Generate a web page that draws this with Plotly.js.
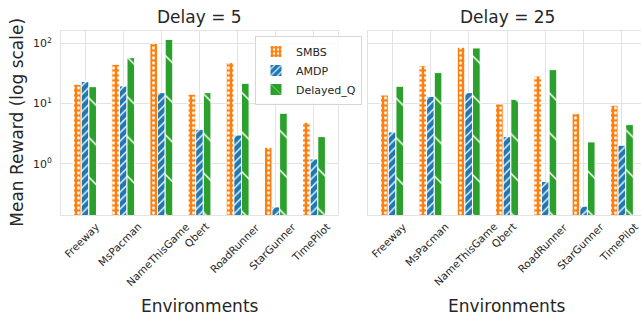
<!DOCTYPE html>
<html>
<head>
<meta charset="utf-8">
<script src="https://cdn.plot.ly/plotly-3.0.1.min.js"></script>
<style>
html, body { margin: 0; padding: 0; overflow: hidden; background: #fff; }
#chart { width: 646px; height: 323px; }
</style>
</head>
<body>
<div id="chart"></div>
<script>
const environments = ["Freeway", "MsPacman", "NameThisGame", "Qbert", "RoadRunner", "StarGunner", "TimePilot"];
const seriesNames = ["SMBS", "AMDP", "Delayed_Q"];
const panelTitles = ["Delay = 5", "Delay = 25"];
const xTitle = "Environments";
const yTitle = "Mean Reward (log scale)";

// Delay = 5
const smbs5     = [20.9, 44.9, 100, 14.3, 47.8, 1.89, 4.9];
const amdp5     = [23.2, 19.6, 15.2, 3.76, 3.02, 0.194, 1.21];
const delayedQ5 = [19.1, 57.8, 116, 15.2, 21.7, 6.92, 2.84];

// Delay = 25
const smbs25     = [13.9, 42.6, 86, 9.87, 28.8, 6.82, 9.38];
const amdp25     = [3.39, 13.2, 15.2, 2.84, 0.51, 0.20, 2.04];
const delayedQ25 = [19.4, 32.7, 83.7, 11.8, 36.6, 2.32, 4.49];

const yTickVals = [1, 10, 100];
const yTickText = ["10<sup>0</sup>", "10<sup>1</sup>", "10<sup>2</sup>"];

const colors = ["#ff7f0e", "#1f77b4", "#2ca02c"];
const patterns = [
  {shape: ".", size: 5, solidity: 0.28},
  {shape: "/", size: 6, solidity: 0.22},
  {shape: "\\", size: 28, solidity: 0.055}
];

function makeTrace(i, y, xa, ya, showlegend) {
  return {
    type: "bar",
    name: seriesNames[i],
    x: environments,
    y: y,
    xaxis: xa,
    yaxis: ya,
    showlegend: showlegend,
    legendgroup: seriesNames[i],
    marker: {
      color: colors[i],
      line: {color: "#ffffff", width: 1},
      pattern: {
        shape: patterns[i].shape,
        size: patterns[i].size,
        solidity: patterns[i].solidity,
        fgcolor: "#ffffff",
        bgcolor: colors[i],
        fillmode: "replace"
      }
    },
    hoverinfo: "skip"
  };
}

const data = [
  makeTrace(0, smbs5, "x", "y", true),
  makeTrace(1, amdp5, "x", "y", true),
  makeTrace(2, delayedQ5, "x", "y", true),
  makeTrace(0, smbs25, "x2", "y2", false),
  makeTrace(1, amdp25, "x2", "y2", false),
  makeTrace(2, delayedQ25, "x2", "y2", false)
];

const W = 646, H = 323;
const gridColor = "#e3e3e3";
const textColor = "#262626";
const fontFamily = "DejaVu Sans, sans-serif";
const plotTop = 30.5, plotBottom = 215;
const xDomains = [[61 / W, 338 / W], [368 / W, 646 / W]];

const xAxisBase = {
  type: "category",
  range: [-0.63, 6.63],
  showgrid: true,
  gridcolor: gridColor,
  gridwidth: 1,
  showline: true,
  linecolor: gridColor,
  linewidth: 1,
  mirror: true,
  ticks: "",
  showticklabels: false,
  automargin: false,
  zeroline: false,
  fixedrange: true
};
const yAxisBase = {
  type: "log",
  range: [-0.846, 2.212],
  tickvals: yTickVals,
  ticktext: yTickText,
  showgrid: true,
  gridcolor: gridColor,
  gridwidth: 1,
  showline: true,
  linecolor: gridColor,
  linewidth: 1,
  mirror: true,
  ticks: "",
  ticklabelstandoff: 6,
  tickfont: {family: fontFamily, size: 11, color: textColor},
  automargin: false,
  zeroline: false,
  fixedrange: true,
  domain: [(H - plotBottom) / H, (H - plotTop) / H]
};

const annotations = [];
// panel titles and x-axis titles
[0, 1].forEach(p => {
  const cx = (xDomains[p][0] + xDomains[p][1]) / 2;
  annotations.push({text: panelTitles[p], x: cx, y: (H - 17) / H, xref: "paper", yref: "paper",
    xanchor: "center", yanchor: "middle", showarrow: false,
    font: {family: fontFamily, size: 17, color: textColor}});
  annotations.push({text: xTitle, x: cx, y: (H - 306) / H, xref: "paper", yref: "paper",
    xanchor: "center", yanchor: "middle", showarrow: false,
    font: {family: fontFamily, size: 17, color: textColor}});
  // rotated category labels, centred under each tick (matplotlib style)
  const xref = p === 0 ? "x" : "x2";
  environments.forEach(env => {
    annotations.push({text: env, x: env, xref: xref, y: (H - 219) / H, yref: "paper",
      xanchor: "center", yanchor: "top", textangle: -45, showarrow: false, xshift: -3,
      borderpad: 0, font: {family: fontFamily, size: 10.5, color: textColor}});
  });
});
// y-axis title
annotations.push({text: yTitle, x: 17 / W, y: (H - (plotTop + plotBottom) / 2) / H,
  xref: "paper", yref: "paper", xanchor: "center", yanchor: "middle", textangle: -90,
  showarrow: false, font: {family: fontFamily, size: 17, color: textColor}});

const layout = {
  width: W,
  height: H,
  margin: {l: 0, r: 0, t: 0, b: 0, pad: 0},
  paper_bgcolor: "#ffffff",
  plot_bgcolor: "#ffffff",
  font: {family: fontFamily, color: textColor},
  barmode: "group",
  bargap: 0.4,
  bargroupgap: 0,
  showlegend: true,
  legend: {
    x: 255 / W, xanchor: "left",
    y: (H - 36) / H, yanchor: "top",
    bgcolor: "rgba(255,255,255,0.85)",
    bordercolor: "#d6d6d6",
    borderwidth: 1,
    font: {family: fontFamily, size: 11, color: textColor},
    itemwidth: 30,
    tracegroupgap: 0
  },
  xaxis: Object.assign({}, xAxisBase, {domain: xDomains[0], anchor: "y"}),
  xaxis2: Object.assign({}, xAxisBase, {domain: xDomains[1], anchor: "y2"}),
  yaxis: Object.assign({}, yAxisBase, {anchor: "x"}),
  yaxis2: Object.assign({}, yAxisBase, {anchor: "x2", showticklabels: false}),
  annotations: annotations
};

Plotly.newPlot("chart", data, layout, {displayModeBar: false, staticPlot: true});
</script>
</body>
</html>
